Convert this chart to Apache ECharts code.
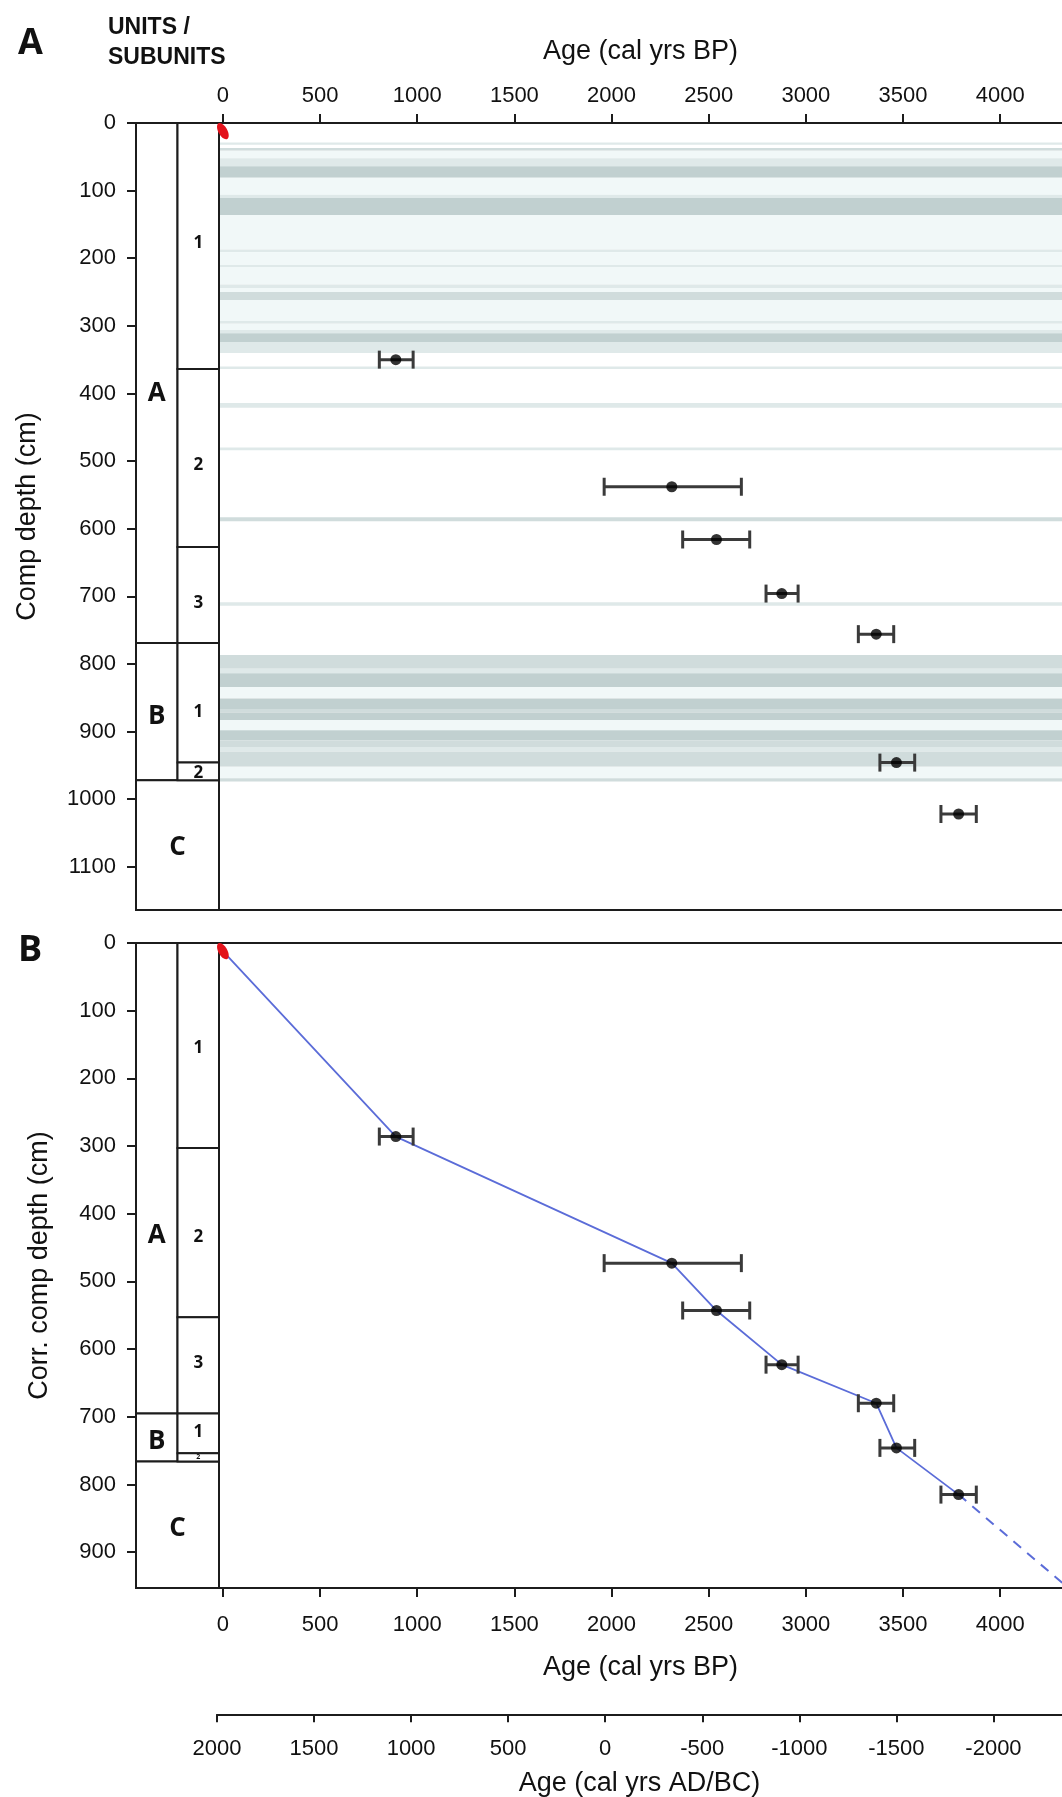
<!DOCTYPE html>
<html>
<head>
<meta charset="utf-8">
<script src="https://cdn.jsdelivr.net/npm/echarts@6/dist/echarts.min.js"></script>
<style>
  html, body { margin: 0; padding: 0; background: #fff; }
  #chart { width: 1062px; height: 1797px; }
</style>
</head>
<body>
<div id="chart"></div>
<script>
// dated samples: calibrated age (cal yrs BP) with its 2-sigma range
const ages = [890, 2310, 2540, 2876, 3362, 3466, 3786];
const ageLo = [805, 1962, 2366, 2795, 3270, 3381, 3695];
const ageHi = [979, 2668, 2711, 2960, 3452, 3560, 3877];
// composite depth (panel A) and event-corrected composite depth (panel B), cm
const depthA = [350, 538, 616, 696, 756, 946, 1022];
const depthB = [286, 473, 543, 623, 680, 746, 815];
// core top
const topAge = 0;
const topDepth = 12;
// extrapolated part of the age model
const extrapAge = [3786, 4330];
const extrapDepth = [815, 948];

// event layers in panel A: [top, bottom, shade]  (shade 0 faint ... 3 dark)
const layersA = [
  [29, 32, 1], [37, 41, 2], [41, 52, 0], [52, 64, 1], [64, 81, 3],
  [81, 106, 0], [106, 111, 1], [111, 136, 3], [136, 187, 0], [187, 191, 1],
  [191, 210, 0], [210, 213, 1], [213, 239, 0], [239, 244, 1], [244, 250, 0],
  [250, 262, 2], [262, 293, 0], [293, 297, 1], [297, 306, 0], [306, 311, 1],
  [311, 324, 3], [324, 340, 1], [360, 364, 1], [414, 421, 1], [480, 484, 1],
  [583, 589, 2], [709, 714, 1], [787, 807, 2], [807, 814, 1], [814, 834, 3],
  [834, 851, 0], [851, 868, 3], [868, 872, 2], [872, 883, 3], [883, 898, 0],
  [898, 913, 3], [913, 923, 2], [923, 930, 1], [930, 952, 2], [952, 969, 0],
  [969, 974, 2]
];

// lithological units / subunits: [name, top, bottom, label depth]
const unitsA = [['A', 0, 769, 400], ['B', 769, 972, 878], ['C', 972, 1164, 1072]];
const subunitsA = [['1', 0, 364, 178], ['2', 364, 627, 506], ['3', 627, 769, 710],
                   ['1', 769, 946, 871], ['2', 946, 972, 961]];
const unitsB = [['A', 0, 695, 432], ['B', 695, 766, 737], ['C', 766, 953, 865]];
const subunitsB = [['1', 0, 303, 155], ['2', 303, 553, 434], ['3', 553, 695, 621],
                   ['1', 695, 754, 723], ['2', 754, 766, 760]];

// tick labels
const bpTicks = [0, 500, 1000, 1500, 2000, 2500, 3000, 3500, 4000];
const adTicks = [2000, 1500, 1000, 500, 0, -500, -1000, -1500, -2000];
const depthTicksA = [0, 100, 200, 300, 400, 500, 600, 700, 800, 900, 1000, 1100];
const depthTicksB = [0, 100, 200, 300, 400, 500, 600, 700, 800, 900];

const BP_MIN = -20, BP_MAX = 4318;
const ink = '#1c1c1c';
const shades = ['#f1f8f8', '#dfe9e9', '#d0dcdc', '#c1d0d0'];
const tickFont = { fontFamily: 'Liberation Sans', fontSize: 22, color: '#111' };
const nameFont = { fontFamily: 'Liberation Sans', fontSize: 27, color: '#111' };

let myChart = echarts.init(document.getElementById('chart'), null, { renderer: 'canvas' });

// unit column boxes: x 0..1 = units, 1..2 = subunits
function boxRows(units, subunits) {
  let rows = [];
  units.forEach(u => {
    let hasSub = subunits.some(s => s[1] >= u[1] && s[2] <= u[2]);
    rows.push({ name: u[0], x0: 0, x1: hasSub ? 1 : 2, top: u[1], bottom: u[2], at: u[3], big: true });
  });
  subunits.forEach(s => {
    rows.push({ name: s[0], x0: 1, x1: 2, top: s[1], bottom: s[2], at: s[3], big: false });
  });
  return rows;
}

function boxSeries(rows, xi, yi) {
  return {
    type: 'custom',
    xAxisIndex: xi,
    yAxisIndex: yi,
    silent: true,
    data: rows.map(r => [r.x0, r.top]),
    renderItem: function (params, api) {
      let r = rows[params.dataIndex];
      let p0 = api.coord([r.x0, r.top]);
      let p1 = api.coord([r.x1, r.bottom]);
      let pl = api.coord([(r.x0 + r.x1) / 2, r.at]);
      let h = p1[1] - p0[1];
      return {
        type: 'group',
        children: [
          { type: 'rect', shape: { x: p0[0], y: p0[1], width: p1[0] - p0[0], height: h },
            style: { fill: '#fff', stroke: ink, lineWidth: 2 } },
          { type: 'text', x: pl[0], y: pl[1],
            style: { text: r.name, align: 'center', verticalAlign: 'middle', fill: '#111',
                     fontFamily: 'Open Sans', fontWeight: 'bold',
                     fontSize: r.big ? 26 : (h < 14 ? 7 : 17) } }
        ]
      };
    }
  };
}

function errorBars(depths, xi, yi) {
  return {
    type: 'custom',
    xAxisIndex: xi,
    yAxisIndex: yi,
    silent: true,
    z: 3,
    data: ages.map((a, i) => [ageLo[i], depths[i], ageHi[i]]),
    renderItem: function (params, api) {
      let a = api.coord([api.value(0), api.value(1)]);
      let b = api.coord([api.value(2), api.value(1)]);
      let st = { stroke: '#3a3a3a', lineWidth: 3 };
      return {
        type: 'group',
        children: [
          { type: 'line', shape: { x1: a[0], y1: a[1], x2: b[0], y2: b[1] }, style: st },
          { type: 'line', shape: { x1: a[0], y1: a[1] - 9, x2: a[0], y2: a[1] + 9 }, style: st },
          { type: 'line', shape: { x1: b[0], y1: b[1] - 9, x2: b[0], y2: b[1] + 9 }, style: st }
        ]
      };
    }
  };
}

// red core-top marker, a slanted blob drawn outside the clip
function topMarker(xi, yi) {
  return {
    type: 'custom', xAxisIndex: xi, yAxisIndex: yi, z: 8, silent: true, clip: false,
    data: [[topAge, topDepth]],
    renderItem: function (params, api) {
      let p = api.coord([api.value(0), api.value(1)]);
      return {
        type: 'ellipse', x: p[0], y: p[1], rotation: 0.5,
        shape: { cx: 0, cy: 0, rx: 4.5, ry: 9 },
        style: { fill: '#e3121b' }
      };
    }
  };
}

function bpAxis(grid, pos, full) {
  return {
    type: 'value', gridIndex: grid, position: pos, min: BP_MIN, max: BP_MAX,
    splitLine: { show: false },
    axisLine: { show: true, onZero: false, lineStyle: { color: ink, width: 2 } },
    axisTick: { show: full, length: 9, customValues: bpTicks, lineStyle: { color: ink, width: 2 } },
    axisLabel: { show: full, customValues: bpTicks, formatter: v => String(v), ...tickFont,
                 margin: pos === 'top' ? 16 : 26 }
  };
}

function depthAxis(grid, max, ticks, labels, name, gap) {
  return {
    type: 'value', gridIndex: grid, inverse: true, min: 0, max: max,
    splitLine: { show: false },
    axisLine: { show: true, onZero: false, lineStyle: { color: ink, width: 2 } },
    axisTick: { show: labels, length: 9, customValues: ticks, lineStyle: { color: ink, width: 2 } },
    axisLabel: { show: labels, customValues: ticks, formatter: v => String(v), ...tickFont, margin: 20 },
    name: labels ? name : '',
    nameLocation: 'middle',
    nameRotate: 90,
    nameGap: gap,
    nameTextStyle: nameFont
  };
}

myChart.setOption({
  animation: false,
  backgroundColor: '#fff',
  grid: [
    { left: 136, width: 83, top: 123, height: 787 },   // A units
    { left: 219, right: 0, top: 123, height: 787 },    // A plot
    { left: 136, width: 83, top: 943, height: 645 },   // B units
    { left: 219, right: 0, top: 943, height: 645 },    // B plot
    { left: 217, right: 0, top: 1714, height: 1 }      // AD/BC axis
  ],
  xAxis: [
    { type: 'value', gridIndex: 0, min: 0, max: 2, show: false },
    { ...bpAxis(1, 'top', true), name: 'Age (cal yrs BP)', nameLocation: 'middle', nameGap: 58,
      nameTextStyle: nameFont },
    bpAxis(1, 'bottom', false),
    { type: 'value', gridIndex: 2, min: 0, max: 2, show: false },
    { ...bpAxis(3, 'bottom', true), name: 'Age (cal yrs BP)', nameLocation: 'middle', nameGap: 66,
      nameTextStyle: nameFont },
    bpAxis(3, 'top', false),
    {
      type: 'value', gridIndex: 4, position: 'bottom', inverse: true, min: -2353, max: 2000,
      splitLine: { show: false },
      axisLine: { show: true, onZero: false, lineStyle: { color: ink, width: 2 } },
      axisTick: { show: true, length: 8, customValues: adTicks, lineStyle: { color: ink, width: 2 } },
      axisLabel: { customValues: adTicks, formatter: v => String(v), ...tickFont, margin: 24 },
      name: 'Age (cal yrs AD/BC)', nameLocation: 'middle', nameGap: 56, nameTextStyle: nameFont
    }
  ],
  yAxis: [
    depthAxis(0, 1164, depthTicksA, true, 'Comp depth (cm)', 95),
    depthAxis(1, 1164, depthTicksA, false, '', 0),
    depthAxis(2, 953, depthTicksB, true, 'Corr. comp depth (cm)', 83),
    depthAxis(3, 953, depthTicksB, false, '', 0),
    { type: 'value', gridIndex: 4, min: 0, max: 1, show: false }
  ],
  graphic: [
    { type: 'text', left: 18, top: 26, style: { text: 'A', fontFamily: 'Open Sans', fontWeight: 'bold', fontSize: 36, fill: '#111' } },
    { type: 'text', left: 18, top: 933, style: { text: 'B', fontFamily: 'Open Sans', fontWeight: 'bold', fontSize: 36, fill: '#111' } },
    { type: 'text', left: 108, top: 16, style: { text: 'UNITS /', fontFamily: 'Liberation Sans', fontWeight: 'bold', fontSize: 23, fill: '#111' } },
    { type: 'text', left: 108, top: 46, style: { text: 'SUBUNITS', fontFamily: 'Liberation Sans', fontWeight: 'bold', fontSize: 23, fill: '#111' } }
  ],
  series: [
    // event layers
    {
      type: 'custom', xAxisIndex: 1, yAxisIndex: 1, silent: true, z: 1,
      data: layersA,
      renderItem: function (params, api) {
        let cs = params.coordSys;
        let y0 = api.coord([0, api.value(0)])[1];
        let y1 = api.coord([0, api.value(1)])[1];
        return { type: 'rect', shape: { x: cs.x + 1, y: y0, width: cs.width, height: Math.max(1.5, y1 - y0) },
                 style: { fill: shades[api.value(2)] } };
      }
    },
    boxSeries(boxRows(unitsA, subunitsA), 0, 0),
    boxSeries(boxRows(unitsB, subunitsB), 3, 2),
    errorBars(depthA, 1, 1),
    {
      type: 'scatter', xAxisIndex: 1, yAxisIndex: 1, z: 4, silent: true,
      symbol: 'circle', symbolSize: 11, itemStyle: { color: '#000' },
      data: ages.map((a, i) => [a, depthA[i]])
    },
    topMarker(1, 1),
    // age-depth model
    {
      type: 'line', xAxisIndex: 4, yAxisIndex: 3, z: 2, silent: true, showSymbol: false,
      lineStyle: { color: '#5b6cd8', width: 1.8 },
      data: [[topAge, topDepth]].concat(ages.map((a, i) => [a, depthB[i]]))
    },
    {
      type: 'line', xAxisIndex: 4, yAxisIndex: 3, z: 2, silent: true, showSymbol: false,
      lineStyle: { color: '#5b6cd8', width: 2, type: [10, 8] },
      data: extrapAge.map((a, i) => [a, extrapDepth[i]])
    },
    errorBars(depthB, 4, 3),
    {
      type: 'scatter', xAxisIndex: 4, yAxisIndex: 3, z: 4, silent: true,
      symbol: 'circle', symbolSize: 11, itemStyle: { color: '#000' },
      data: ages.map((a, i) => [a, depthB[i]])
    },
    topMarker(4, 3)
  ]
});
</script>
</body>
</html>
